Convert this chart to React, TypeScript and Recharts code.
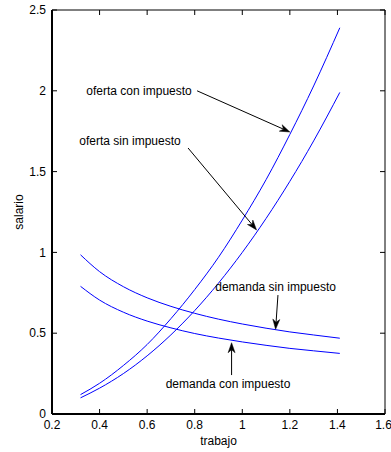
import { LineChart, Line, XAxis, YAxis, ReferenceLine, ReferenceDot } from 'recharts';

// trabajo (eje x) y las cuatro curvas
const trabajo = [0.32, 0.4, 0.5, 0.6, 0.7, 0.8, 0.9, 1.0, 1.1, 1.2, 1.3, 1.41];
const ofertaSin = [0.1, 0.16, 0.25, 0.36, 0.49, 0.64, 0.81, 1.0, 1.21, 1.44, 1.69, 1.99];
const ofertaCon = [0.12, 0.19, 0.3, 0.43, 0.59, 0.77, 0.97, 1.2, 1.45, 1.73, 2.03, 2.39];
const demandaSin = [0.985, 0.881, 0.788, 0.719, 0.666, 0.623, 0.587, 0.557, 0.531, 0.508, 0.489, 0.469];
const demandaCon = [0.79, 0.705, 0.63, 0.575, 0.533, 0.498, 0.47, 0.446, 0.425, 0.406, 0.391, 0.375];

const xTicks = [0.2, 0.4, 0.6, 0.8, 1, 1.2, 1.4, 1.6];
const yTicks = [0, 0.5, 1, 1.5, 2, 2.5];

// anotaciones: texto, posicion del texto, y flecha (desde -> hasta)
const notas = ['oferta con impuesto', 'oferta sin impuesto', 'demanda sin impuesto', 'demanda con impuesto'];
const notaX = [0.566, 0.528, 1.14, 0.94];
const notaY = [2.0, 1.69, 0.79, 0.186];
const flechaDesdeX = [0.81, 0.772, 1.15, 0.955];
const flechaDesdeY = [2.0, 1.646, 0.736, 0.241];
const flechaHastaX = [1.2, 1.06, 1.14, 0.955];
const flechaHastaY = [1.745, 1.139, 0.524, 0.441];

const data = trabajo.map((x, i) => ({
    x,
    ofertaSin: ofertaSin[i],
    ofertaCon: ofertaCon[i],
    demandaSin: demandaSin[i],
    demandaCon: demandaCon[i],
}));

const FONT = '"Liberation Sans", Arial, sans-serif';
const BLUE = '#0000ff';

// linea con punta de flecha rellena (estilo matlab)
function Flecha(props: any) {
    const { x1, y1, x2, y2 } = props;
    const ang = Math.atan2(y2 - y1, x2 - x1);
    const len = 10;
    const half = 3.5;
    const ux = Math.cos(ang), uy = Math.sin(ang);
    const px = -uy, py = ux;
    const bx = x2 - ux * len, by = y2 - uy * len;
    const nx = x2 - ux * len * 0.7, ny = y2 - uy * len * 0.7;
    const pts = [
        [x2, y2],
        [bx + px * half, by + py * half],
        [nx, ny],
        [bx - px * half, by - py * half],
    ].map((p) => p.join(',')).join(' ');
    return (
        <g>
            <line x1={x1} y1={y1} x2={nx} y2={ny} stroke="#000" strokeWidth={1} />
            <polygon points={pts} fill="#000" stroke="#000" strokeWidth={0.5} />
        </g>
    );
}

export default function App() {
    const tick = { fill: '#000', fontSize: 12, fontFamily: FONT };
    // ticks hacia dentro: tickSize negativo, el margen lo compensa
    return (
        <div style={{ position: 'absolute', left: 0, top: 0 }}>
            <LineChart
                width={391}
                height={452}
                data={data}
                margin={{ top: 0, right: 0, bottom: 0, left: 0 }}
                style={{ fontFamily: FONT }}
            >
                <XAxis
                    xAxisId="b"
                    dataKey="x"
                    type="number"
                    domain={[0.2, 1.6]}
                    ticks={xTicks}
                    height={38}
                    tickSize={-5}
                    tickMargin={11}
                    tick={tick}
                    axisLine={{ stroke: '#000', strokeWidth: 2 }}
                    tickLine={{ stroke: '#000', strokeWidth: 1 }}
                    allowDataOverflow
                    label={{ value: 'trabajo', position: 'insideBottom', offset: 7, fill: '#000', fontSize: 12 }}
                />
                <XAxis
                    xAxisId="t"
                    dataKey="x"
                    orientation="top"
                    type="number"
                    domain={[0.2, 1.6]}
                    ticks={xTicks}
                    height={10}
                    tickSize={-5}
                    tickFormatter={() => ''}
                    axisLine={{ stroke: '#000', strokeWidth: 1 }}
                    tickLine={{ stroke: '#000', strokeWidth: 1 }}
                    allowDataOverflow
                />
                <YAxis
                    yAxisId="l"
                    type="number"
                    domain={[0, 2.5]}
                    ticks={yTicks}
                    width={52}
                    tickSize={-5}
                    tickMargin={11}
                    tick={tick}
                    axisLine={{ stroke: '#000', strokeWidth: 2 }}
                    tickLine={{ stroke: '#000', strokeWidth: 1 }}
                    allowDataOverflow
                    label={{ value: 'salario', angle: -90, position: 'insideLeft', offset: 19, textAnchor: 'middle', fill: '#000', fontSize: 12 }}
                />
                <YAxis
                    yAxisId="r"
                    orientation="right"
                    type="number"
                    domain={[0, 2.5]}
                    ticks={yTicks}
                    width={6}
                    tickSize={-5}
                    tickFormatter={() => ''}
                    axisLine={{ stroke: '#000', strokeWidth: 1 }}
                    tickLine={{ stroke: '#000', strokeWidth: 1 }}
                    allowDataOverflow
                />
                {/* los ejes superior/derecho comparten dominio con los principales */}
                <Line xAxisId="t" yAxisId="r" type="monotone" dataKey="ofertaCon" stroke={BLUE} strokeWidth={1} dot={false} isAnimationActive={false} />
                <Line xAxisId="b" yAxisId="l" type="monotone" dataKey="ofertaSin" stroke={BLUE} strokeWidth={1} dot={false} isAnimationActive={false} />
                <Line xAxisId="b" yAxisId="l" type="monotone" dataKey="demandaSin" stroke={BLUE} strokeWidth={1} dot={false} isAnimationActive={false} />
                <Line xAxisId="b" yAxisId="l" type="monotone" dataKey="demandaCon" stroke={BLUE} strokeWidth={1} dot={false} isAnimationActive={false} />
                {notas.map((n, i) => (
                    <ReferenceLine
                        key={'f' + i}
                        xAxisId="b"
                        yAxisId="l"
                        segment={[
                            { x: flechaDesdeX[i], y: flechaDesdeY[i] },
                            { x: flechaHastaX[i], y: flechaHastaY[i] },
                        ]}
                        shape={(p: any) => <Flecha {...p} />}
                    />
                ))}
                {notas.map((n, i) => (
                    <ReferenceDot
                        key={'t' + i}
                        xAxisId="b"
                        yAxisId="l"
                        x={notaX[i]}
                        y={notaY[i]}
                        r={0}
                        fill="none"
                        stroke="none"
                        label={{ value: n, position: 'center', fill: '#000', fontSize: 12 }}
                    />
                ))}
            </LineChart>
        </div>
    );
}
